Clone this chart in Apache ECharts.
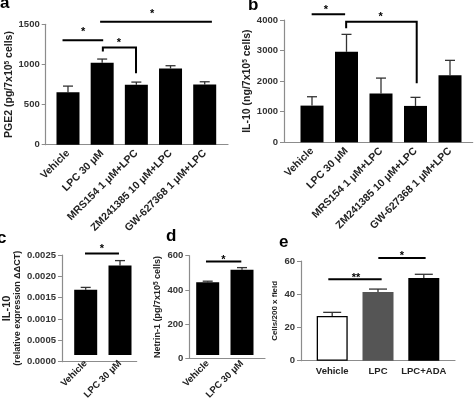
<!DOCTYPE html>
<html><head><meta charset="utf-8">
<script src="https://cdn.jsdelivr.net/npm/echarts@6/dist/echarts.min.js"></script>
<style>html,body{margin:0;padding:0;background:#fff}#c{width:474px;height:402px}</style>
</head><body><div id="c"></div>
<script>
// ---- data ----
const catsAB = ['Vehicle', 'LPC 30 μM', 'MRS154 1 μM+LPC', 'ZM241385 10 μM+LPC', 'GW-627368 1 μM+LPC'];
const pge2Mean = [655, 1021, 746, 950, 750];
const pge2Sem = [75, 46, 34, 34, 34];
const pge2Ticks = [0, 500, 1000, 1500];

const il10Mean = [1200, 2960, 1600, 1190, 2190];
const il10Sem = [290, 570, 500, 280, 490];
const il10Ticks = [0, 1000, 2000, 3000, 4000];

const catsCD = ['Vehicle', 'LPC 30 μM'];
const il10ExprMean = [0.00163, 0.00224];
const il10ExprSem = [0.00006, 0.00012];
const il10ExprTicks = [0, 0.0005, 0.0010, 0.0015, 0.0020, 0.0025];

const netrinMean = [439, 515];
const netrinSem = [7, 13];
const netrinTicks = [0, 200, 400, 600];

const catsE = ['Vehicle', 'LPC', 'LPC+ADA'];
const cellsMean = [26.9, 41.3, 49.8];
const cellsSem = [2.2, 1.8, 2.2];
const cellsTicks = [0, 20, 40, 60];

// significance annotations (category units, value units)
const sigA = [
  {pts: [[-0.16, 1300], [1.03, 1300]], text: '*', at: [0.44, 1440]},
  {pts: [[1.02, 1160], [1.02, 1210], [1.99, 1210], [1.99, 890]], text: '*', at: [1.49, 1305]},
  {pts: [[0.94, 1533], [4.21, 1533]], text: '*', at: [2.46, 1670]}
];
const sigB = [
  {pts: [[-0.01, 4190], [0.96, 4190]], text: '*', at: [0.40, 4420]},
  {pts: [[0.99, 3730], [0.99, 3945], [3.035, 3945], [3.035, 1930]], text: '*', at: [1.99, 4200]}
];
const sigC = [
  {pts: [[-0.02, 0.00254], [0.97, 0.00254]], text: '*', at: [0.475, 0.00272]}
];
const sigD = [
  {pts: [[-0.05, 565], [0.98, 565]], text: '*', at: [0.455, 595]}
];
const sigE = [
  {pts: [[-0.085, 49], [1.08, 49]], text: '**', at: [0.52, 51.6]},
  {pts: [[1.007, 61.8], [2.04, 61.8]], text: '*', at: [1.524, 64.6]}
];

// ---- chart ----
const FONT = 'Arial, "Liberation Sans", sans-serif';
const grids = [], xAxes = [], yAxes = [], series = [];

function panel(cfg) {
  const n = cfg.cats.length;
  const h = cfg.bottom - cfg.top;
  const ticks = cfg.ticks;
  const ymax = ticks[ticks.length - 1];
  const interval = ticks[1] - ticks[0];
  const gF = grids.length;
  grids.push({left: cfg.fx0, top: cfg.top, width: cfg.fx1 - cfg.fx0, height: h});
  xAxes.push({gridIndex: gF, type: 'value', min: 0, max: 1, axisLine: {show: true, onZero: false, lineStyle: {color: '#8c8c8c', width: 1.2}},
    axisTick: {show: false}, axisLabel: {show: false}, splitLine: {show: false}});
  yAxes.push({gridIndex: gF, type: 'value', min: 0, max: ymax, interval: interval,
    axisLine: {show: true, lineStyle: {color: '#8c8c8c', width: 1.2}},
    axisTick: {show: true, length: 4, lineStyle: {color: '#8c8c8c'}},
    splitLine: {show: false},
    axisLabel: {margin: 6, fontFamily: FONT, fontWeight: 'bold', fontSize: 9.5, color: '#333',
      formatter: cfg.fmt || (v => String(v))},
    name: cfg.name, nameLocation: 'middle', nameGap: cfg.nameGap, nameRotate: 90,
    nameTextStyle: {fontFamily: FONT, fontWeight: 'bold', fontSize: cfg.nameSize || 10, color: '#222', lineHeight: 11,
      rich: {sup: {fontSize: 6.5, verticalAlign: 'top', fontWeight: 'bold', fontFamily: FONT, color: '#222', padding: [0, 0, 4, 0]},
             big: {fontSize: 11, fontWeight: 'bold', fontFamily: FONT, color: '#222'}}}
  });
  const gD = grids.length;
  grids.push({left: cfg.gx0, top: cfg.top, width: cfg.gw, height: h});
  const xC = xAxes.length;
  xAxes.push({gridIndex: gD, type: 'category', data: cfg.cats, axisLine: {show: false}, axisTick: {show: false},
    axisLabel: {interval: 0, rotate: cfg.rotate, margin: cfg.labelMargin, fontFamily: FONT, fontWeight: 'bold',
      fontSize: cfg.labelSize, color: '#222'}});
  const xA = xAxes.length;
  xAxes.push({gridIndex: gD, type: 'value', min: -0.5, max: n - 0.5, show: false});
  const yD = yAxes.length;
  yAxes.push({gridIndex: gD, type: 'value', min: 0, max: ymax, show: false});

  series.push({type: 'bar', xAxisIndex: xC, yAxisIndex: yD, barWidth: cfg.barWidth,
    data: cfg.mean.map((v, i) => ({value: v, itemStyle: cfg.barStyles ? cfg.barStyles[i] : {color: '#000'}})),
    silent: true, animation: false});
  series.push({type: 'custom', xAxisIndex: xC, yAxisIndex: yD, animation: false, silent: true, z: 1,
    data: cfg.mean.map((v, i) => [i, v, v + cfg.sem[i]]),
    renderItem: (params, api) => {
      const p0 = api.coord([api.value(0), api.value(1)]);
      const p1 = api.coord([api.value(0), api.value(2)]);
      const hw = cfg.capW / 2;
      const st = {stroke: '#333', lineWidth: 1.3, fill: null};
      return {type: 'group', children: [
        {type: 'line', shape: {x1: p0[0], y1: p0[1], x2: p1[0], y2: p1[1]}, style: st},
        {type: 'line', shape: {x1: p1[0] - hw, y1: p1[1], x2: p1[0] + hw, y2: p1[1]}, style: st}
      ]};
    }});
  series.push({type: 'custom', xAxisIndex: xA, yAxisIndex: yD, animation: false, silent: true, clip: false,
    data: cfg.sig.map((s, i) => [i, 0]),
    renderItem: (params, api) => {
      const s = cfg.sig[params.dataIndex];
      const pts = s.pts.map(p => api.coord(p));
      const c = api.coord(s.at);
      return {type: 'group', children: [
        {type: 'polyline', shape: {points: pts}, style: {stroke: '#000', lineWidth: 2, fill: null}},
        {type: 'text', x: c[0], y: c[1] + 3, style: {text: s.text, fontFamily: FONT, fontWeight: 'bold', fontSize: 11,
          fill: '#000', align: 'center', verticalAlign: 'middle'}}
      ]};
    }});
}

panel({cats: catsAB, mean: pge2Mean, sem: pge2Sem, ticks: pge2Ticks, sig: sigA,
  fx0: 45.7, fx1: 228, gx0: 50.9, gw: 170.9, top: 24.3, bottom: 144.7,
  name: 'PGE2 (pg/7x10{sup|5} cells)', nameGap: 31, nameSize: 10.5, rotate: 45, labelMargin: 7, labelSize: 10.5, barWidth: 23, capW: 10});
panel({cats: catsAB, mean: il10Mean, sem: il10Sem, ticks: il10Ticks, sig: sigB,
  fx0: 284, fx1: 472.7, gx0: 294.75, gw: 172.5, top: 20, bottom: 142.3,
  name: 'IL-10 (ng/7x10{sup|5} cells)', nameGap: 31, nameSize: 10.5, rotate: 45, labelMargin: 7, labelSize: 10.5, barWidth: 23, capW: 10});
panel({cats: catsCD, mean: il10ExprMean, sem: il10ExprSem, ticks: il10ExprTicks, sig: sigC,
  fx0: 59.3, fx1: 136.7, gx0: 68.55, gw: 68.6, top: 255, bottom: 361.7, fmt: v => v.toFixed(4),
  name: '{big|IL-10}\n(relative expression ΔΔCT)', nameGap: 38, nameSize: 9, rotate: 45, labelMargin: 7, labelSize: 9.5, barWidth: 23, capW: 10});
panel({cats: catsCD, mean: netrinMean, sem: netrinSem, ticks: netrinTicks, sig: sigD,
  fx0: 189.3, fx1: 265, gx0: 190.55, gw: 68.6, top: 255.7, bottom: 358.3,
  name: 'Netrin-1 (pg/7x10{sup|5} cells)', nameGap: 26, nameSize: 9, rotate: 45, labelMargin: 7, labelSize: 9.5, barWidth: 23, capW: 10});
panel({cats: catsE, mean: cellsMean, sem: cellsSem, ticks: cellsTicks, sig: sigE,
  fx0: 301, fx1: 455, gx0: 309.3, gw: 137.4, top: 261, bottom: 360.7,
  name: 'Cells/200 x field', nameGap: 21, nameSize: 8, rotate: 0, labelMargin: 6, labelSize: 9.5, barWidth: 31, capW: 18,
  barStyles: [{color: '#fff', borderColor: '#000', borderWidth: 1.3}, {color: '#555'}, {color: '#000'}]});

const chart = echarts.init(document.getElementById('c'), null, {renderer: 'canvas'});
chart.setOption({
  animation: false,
  grid: grids, xAxis: xAxes, yAxis: yAxes, series: series,
  graphic: [
    {type: 'text', left: 0, top: -5, style: {text: 'a', font: 'bold 17px ' + FONT, fill: '#000'}},
    {type: 'text', left: 248, top: -3, style: {text: 'b', font: 'bold 17px ' + FONT, fill: '#000'}},
    {type: 'text', left: -3, top: 230, style: {text: 'c', font: 'bold 17px ' + FONT, fill: '#000'}},
    {type: 'text', left: 166, top: 228, style: {text: 'd', font: 'bold 17px ' + FONT, fill: '#000'}},
    {type: 'text', left: 279, top: 234, style: {text: 'e', font: 'bold 17px ' + FONT, fill: '#000'}}
  ]
});
</script></body></html>
